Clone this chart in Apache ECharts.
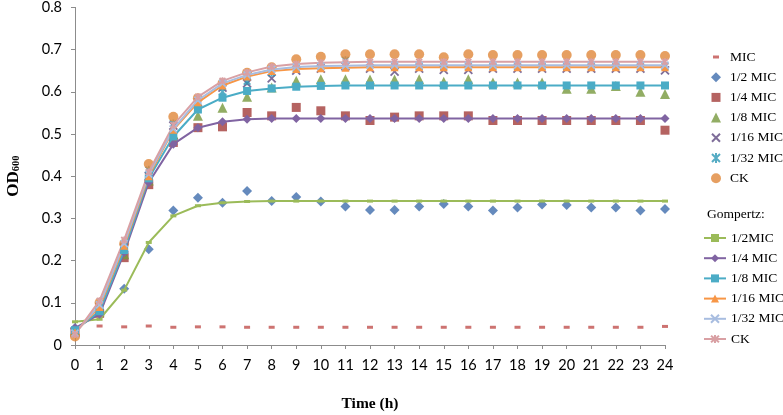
<!DOCTYPE html>
<html><head><meta charset="utf-8">
<script src="https://cdn.jsdelivr.net/npm/echarts@6/dist/echarts.min.js"></script>
<style>html,body{margin:0;padding:0;background:#fff}#c{width:783px;height:415px}</style>
</head><body><div id="c"></div>
<script>
const hours = [0,1,2,3,4,5,6,7,8,9,10,11,12,13,14,15,16,17,18,19,20,21,22,23,24];
const yTicks = [0,0.1,0.2,0.3,0.4,0.5,0.6,0.7,0.8];
// observed data
const obsMIC   = [0.030,0.045,0.043,0.045,0.042,0.043,0.043,0.042,0.042,0.042,0.042,0.042,0.042,0.042,0.042,0.042,0.042,0.042,0.042,0.042,0.042,0.042,0.042,0.042,0.044];
const obsHalf  = [0.040,0.080,0.133,0.227,0.319,0.349,0.337,0.365,0.341,0.351,0.340,0.328,0.320,0.320,0.328,0.334,0.328,0.319,0.326,0.333,0.332,0.326,0.326,0.319,0.322];
const obsQuart = [0.030,0.075,0.207,0.380,0.480,0.515,0.517,0.551,0.543,0.563,0.555,0.543,0.532,0.540,0.543,0.543,0.543,0.532,0.532,0.532,0.532,0.532,0.532,0.532,0.509];
const obsEighth= [0.035,0.080,0.215,0.390,0.500,0.543,0.562,0.588,0.610,0.626,0.630,0.630,0.629,0.629,0.630,0.624,0.630,0.622,0.622,0.622,0.607,0.607,0.614,0.600,0.595];
const obs16    = [0.030,0.090,0.230,0.400,0.520,0.575,0.610,0.620,0.632,0.650,0.655,0.660,0.655,0.648,0.655,0.652,0.652,0.655,0.655,0.655,0.655,0.655,0.655,0.655,0.651];
const obs32    = [0.035,0.085,0.235,0.415,0.525,0.575,0.600,0.625,0.645,0.655,0.660,0.675,0.665,0.660,0.660,0.660,0.660,0.660,0.660,0.660,0.660,0.660,0.660,0.660,0.660];
const obsCK    = [0.020,0.100,0.240,0.429,0.541,0.585,0.620,0.645,0.658,0.677,0.683,0.689,0.689,0.689,0.689,0.682,0.689,0.687,0.687,0.687,0.687,0.687,0.687,0.687,0.685];
// Gompertz fits
const fitHalf  = [0.055,0.061,0.130,0.243,0.306,0.330,0.337,0.340,0.341,0.341,0.341,0.341,0.341,0.341,0.341,0.341,0.341,0.341,0.341,0.341,0.341,0.341,0.341,0.341,0.341];
const fitQuart = [0.040,0.073,0.219,0.385,0.476,0.515,0.529,0.535,0.537,0.537,0.537,0.537,0.537,0.537,0.537,0.537,0.537,0.537,0.537,0.537,0.537,0.537,0.537,0.537,0.537];
const fitEighth= [0.035,0.080,0.225,0.395,0.494,0.558,0.586,0.602,0.608,0.612,0.614,0.615,0.615,0.615,0.615,0.615,0.615,0.615,0.615,0.615,0.615,0.615,0.615,0.615,0.615];
const fit16    = [0.030,0.090,0.235,0.400,0.510,0.575,0.615,0.636,0.649,0.654,0.656,0.657,0.658,0.658,0.658,0.658,0.658,0.658,0.658,0.658,0.658,0.658,0.658,0.658,0.658];
const fit32    = [0.028,0.095,0.240,0.405,0.512,0.580,0.620,0.640,0.653,0.659,0.661,0.662,0.663,0.663,0.663,0.663,0.663,0.663,0.663,0.663,0.663,0.663,0.663,0.663,0.663];
const fitCK    = [0.025,0.105,0.249,0.410,0.521,0.588,0.626,0.646,0.660,0.666,0.669,0.670,0.671,0.671,0.671,0.671,0.671,0.671,0.671,0.671,0.671,0.671,0.671,0.671,0.671];

const obsNames = ['MIC','1/2 MIC','1/4 MIC','1/8 MIC','1/16 MIC','1/32 MIC','CK'];
const fitNames = ['G:1/2MIC','G:1/4 MIC','G:1/8 MIC','G:1/16 MIC','G:1/32 MIC','G:CK'];

const pair = arr => hours.map((h,i)=>[h,arr[i]]);
const XPATH = 'path://M0,0L10,10M10,0L0,10';
const STAR = 'path://M0,0L10,10M10,0L0,10M5,-1L5,11';
// legend icons padded inside a 10x10 box
const LEG_ICONS = [
  'path://M0,0M10,10M2,3.5L8,3.5L8,6.5L2,6.5Z',
  'path://M0,0M10,10M5,0L10,5L5,10L0,5Z',
  'path://M0,0M10,10M0.5,0.5L9.5,0.5L9.5,9.5L0.5,9.5Z',
  'path://M0,0M10,10M5,0L10,10L0,10Z',
  'path://M0,0M10,10M1,1L9,9M9,1L1,9',
  'path://M0,0M10,10M1,1L9,9M9,1L1,9M5,0L5,10',
  'circle'
];

function sc(name, data, color, symbol, size, stroke){
  const s = {type:'scatter', name, data:pair(data), symbol, symbolSize:size, symbolKeepAspect:true,
    itemStyle:{color}, emphasis:{disabled:true}, z:2};
  if(stroke){ s.itemStyle = {color:'rgba(0,0,0,0)', borderColor:color, borderWidth:1.8}; }
  return s;
}
function ln(name, data, color, symbol, size, stroke){
  const s = {type:'line', name, data:pair(data), symbol, symbolSize:size, showSymbol:true, symbolKeepAspect:true,
    lineStyle:{color, width:2}, itemStyle:{color}, emphasis:{disabled:true}, z:3};
  if(stroke){ s.itemStyle = {color:'rgba(0,0,0,0)', borderColor:color, borderWidth:1.8}; }
  return s;
}

const series = [
  sc(obsNames[0], obsMIC, '#C0504D', 'rect', [6,3]),
  sc(obsNames[1], obsHalf, '#3E6DAD', 'diamond', 10),
  sc(obsNames[2], obsQuart, '#A33C3A', 'rect', 9),
  sc(obsNames[3], obsEighth, '#77993D', 'triangle', 10),
  sc(obsNames[4], obs16, '#5E4880', XPATH, 8, true),
  sc(obsNames[5], obs32, '#2C97B5', STAR, 8, true),
  sc(obsNames[6], obsCK, '#E0873A', 'circle', 10),
  ln(fitNames[0], fitHalf, '#9BBB59', 'rect', [6,3]),
  ln(fitNames[1], fitQuart, '#8064A2', 'diamond', 9),
  ln(fitNames[2], fitEighth, '#4BACC6', 'rect', 8),
  ln(fitNames[3], fit16, '#F79646', 'triangle', 8),
  ln(fitNames[4], fit32, '#A8BDE0', XPATH, 7, true),
  ln(fitNames[5], fitCK, '#D9A0A4', STAR, 7, true)
];

const legTxt = {fontFamily:'Liberation Serif', fontSize:13.5, color:'#000', lineHeight:14};
const chart = echarts.init(document.getElementById('c'), null, {renderer:'canvas'});
chart.setOption({
  animation:false,
  backgroundColor:'#fff',
  grid:{left:75, right:118, top:7.4, bottom:70, containLabel:false, outerBoundsMode:'none'},
  xAxis:{type:'value', min:0, max:24, interval:1,
    axisLine:{show:true, lineStyle:{color:'#8C8C8C', width:1}},
    axisTick:{show:true, length:4, lineStyle:{color:'#8C8C8C'}},
    axisLabel:{fontFamily:'Lato', fontSize:14.5, color:'#000', margin:13},
    splitLine:{show:false},
    name:'Time (h)', nameLocation:'middle', nameGap:51,
    nameTextStyle:{fontFamily:'Liberation Serif', fontWeight:'bold', fontSize:15.5, color:'#000'}},
  yAxis:{type:'value', min:0, max:0.8, interval:0.1,
    axisLine:{show:true, lineStyle:{color:'#8C8C8C', width:1}},
    axisTick:{show:true, length:4, lineStyle:{color:'#8C8C8C'}},
    axisLabel:{fontFamily:'Lato', fontSize:14.5, color:'#000', margin:13,
      formatter:v=>{const t=yTicks.find(k=>Math.abs(k-v)<1e-9); return t===0?'0':(t!==undefined?t.toFixed(1):v.toFixed(1));}},
    splitLine:{show:false},
    name:'{a|OD}{b|600}', nameLocation:'middle', nameGap:53, nameRotate:90,
    nameTextStyle:{rich:{
      a:{fontFamily:'Liberation Serif', fontWeight:'bold', fontSize:17, color:'#000'},
      b:{fontFamily:'Liberation Serif', fontWeight:'bold', fontSize:10.5, color:'#000', verticalAlign:'bottom', padding:[6,0,0,0]}}}},
  legend:[
    {data:obsNames.map((n,i)=>({name:n, icon:LEG_ICONS[i]})), orient:'vertical', left:705, top:45, padding:5,
      itemWidth:10, itemHeight:10, itemGap:6.2,
      textStyle:Object.assign({padding:[0,0,0,4]}, legTxt), selectedMode:false},
    {data:fitNames, orient:'vertical', left:698, top:226, padding:5, itemWidth:22, itemHeight:10, itemGap:6.2,
      textStyle:legTxt, selectedMode:false, formatter:n=>n.replace(/^G:/,'')}
  ],
  graphic:[{type:'text', left:707, top:207, style:{text:'Gompertz:', font:'13.5px "Liberation Serif"', fill:'#000'}}],
  series
});
</script></body></html>
